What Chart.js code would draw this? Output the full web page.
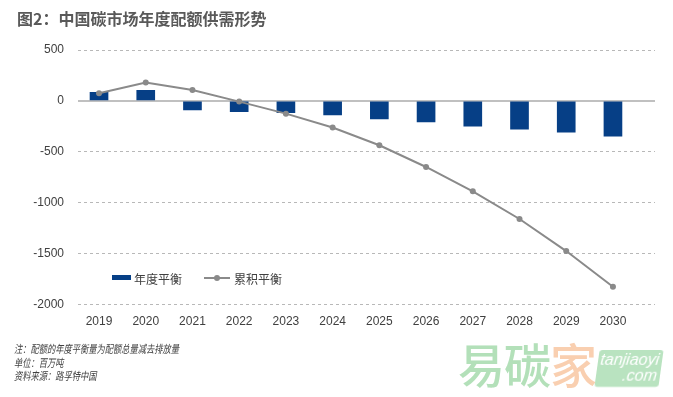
<!DOCTYPE html>
<html>
<head>
<meta charset="utf-8">
<script src="https://cdn.jsdelivr.net/npm/chart.js@4.4.1/dist/chart.umd.min.js"></script>
<style>
    html, body { margin: 0; padding: 0; background: #fff; }
    #wrap { position: relative; width: 673px; height: 397px; overflow: hidden; font-family: "Liberation Sans", Arial, sans-serif; }
    #chart { position: absolute; left: 0; top: 0; }
    #title { position: absolute; left: 17px; top: 6px; font: bold 16px "Noto Sans CJK SC", sans-serif; color: #595959; white-space: nowrap; }
    .note { position: absolute; left: 14px; font: italic 11px "Noto Sans CJK SC", sans-serif; color: #404040; white-space: nowrap; transform: scaleX(0.75); transform-origin: left center; }
    #mark { position: absolute; left: 458px; top: 337px; font: 500 47px "Noto Sans CJK SC", sans-serif; white-space: nowrap; line-height: 52px; letter-spacing: -1px; }
    #markBox { position: absolute; left: 597px; top: 350px; width: 64px; height: 37px; background: #b9e3c0; border-radius: 3px; color: #fff; font: italic 16px "Liberation Sans", Arial, sans-serif; text-align: right; line-height: 16px; padding: 2px 3px 0 0; box-sizing: border-box; transform: skewX(-8deg); }
</style>
</head>
<body>
<div id="wrap">
    <canvas id="chart" width="673" height="397"></canvas>
    <div id="title">图2：中国碳市场年度配额供需形势</div>
    <div class="note" style="top:340px">注：配额的年度平衡量为配额总量减去排放量</div>
    <div class="note" style="top:354px">单位：百万吨</div>
    <div class="note" style="top:367px">资料来源：路孚特中国</div>
    <div id="mark"><span style="color:#b3e0b9">易碳</span><span style="color:#f9cfb0">家</span></div>
    <div id="markBox">tanjiaoyi<br>.com</div>
</div>
<script>
"use strict";

/** DATA */

const YEARS = [2019, 2020, 2021, 2022, 2023, 2024, 2025, 2026, 2027, 2028, 2029, 2030];
const ANNUAL_BALANCE = [85, 105, -88, -105, -115, -138, -177, -207, -249, -278, -308, -347];
const CUMULATIVE_BALANCE = [76, 180, 108, -7, -125, -262, -436, -649, -888, -1160, -1475, -1826];
const Y_TICKS = [500, 0, -500, -1000, -1500, -2000];

const BAR_COLOR = '#063f86';
const LINE_COLOR = '#8a8a8a';

/** CUSTOM LEGEND (sits inside the plot) */

const insideLegend = {
    id: 'insideLegend',
    afterDatasetsDraw(chart) {
        const { ctx, chartArea } = chart;
        const y = chartArea.top + 228;
        let x = chartArea.left + 34;

        ctx.save();
        ctx.font = '12px "Noto Sans CJK SC", sans-serif';
        ctx.textBaseline = 'middle';

        chart.data.datasets.forEach(ds => {
            if (ds.type === 'line') {
                ctx.strokeStyle = LINE_COLOR;
                ctx.lineWidth = 2;
                ctx.beginPath();
                ctx.moveTo(x, y);
                ctx.lineTo(x + 26, y);
                ctx.stroke();
                ctx.fillStyle = LINE_COLOR;
                ctx.beginPath();
                ctx.arc(x + 13, y, 3, 0, Math.PI * 2);
                ctx.fill();
                x += 30;
            } else {
                ctx.fillStyle = BAR_COLOR;
                ctx.fillRect(x, y - 3, 19, 5);
                x += 22;
            }
            ctx.fillStyle = '#404040';
            ctx.fillText(ds.label, x, y + 1);
            x += ctx.measureText(ds.label).width + 22;
        });
        ctx.restore();
    }
};

/** INITIALIZE CHART */

const supplyDemandChart = new Chart(document.getElementById('chart').getContext('2d'), {
    type: 'bar',
    data: {
        datasets: [{
            type: 'bar',
            label: '年度平衡',
            data: YEARS.map((year, i) => ({ x: year, y: ANNUAL_BALANCE[i] })),
            backgroundColor: BAR_COLOR,
            borderWidth: 0,
            barThickness: 18,
            order: 2
        }, {
            type: 'line',
            label: '累积平衡',
            data: YEARS.map((year, i) => ({ x: year, y: CUMULATIVE_BALANCE[i] })),
            borderColor: LINE_COLOR,
            backgroundColor: LINE_COLOR,
            borderWidth: 2,
            tension: 0,
            pointRadius: 3,
            pointHoverRadius: 3,
            pointBorderWidth: 0,
            order: 1
        }]
    },
    options: {
        responsive: false,
        animation: false,
        layout: {
            padding: { top: 50, right: 18, bottom: 62.5, left: 0 }
        },
        plugins: {
            legend: { display: false },
            tooltip: { enabled: false }
        },
        scales: {
            x: {
                type: 'linear',
                offset: false,
                min: 2018.55,
                max: 2030.9,
                afterBuildTicks: scale => { scale.ticks = YEARS.map(v => ({ value: v })) },
                afterFit: scale => { scale.height = 30 },
                grid: { display: false, drawTicks: false, offset: false },
                border: { display: false },
                ticks: {
                    padding: 10,
                    color: '#404040',
                    font: { family: '"Liberation Sans", Arial, sans-serif', size: 12 },
                    callback: value => String(value)
                }
            },
            y: {
                min: -2000,
                max: 500,
                afterBuildTicks: scale => { scale.ticks = Y_TICKS.map(v => ({ value: v })) },
                afterFit: scale => { scale.width = 78 },
                grid: {
                    drawTicks: false,
                    color: ctx => ctx.tick && ctx.tick.value === 0 ? '#c0c0c0' : '#b8b8b8',
                    lineWidth: ctx => ctx.tick && ctx.tick.value === 0 ? 2 : 1
                },
                border: {
                    display: false,
                    dash: ctx => ctx.tick && ctx.tick.value === 0 ? [] : [3, 3]
                },
                ticks: {
                    padding: 14,
                    color: '#404040',
                    font: { family: '"Liberation Sans", Arial, sans-serif', size: 12 },
                    callback: value => String(value)
                }
            }
        }
    },
    plugins: [insideLegend]
});
</script>
</body>
</html>
